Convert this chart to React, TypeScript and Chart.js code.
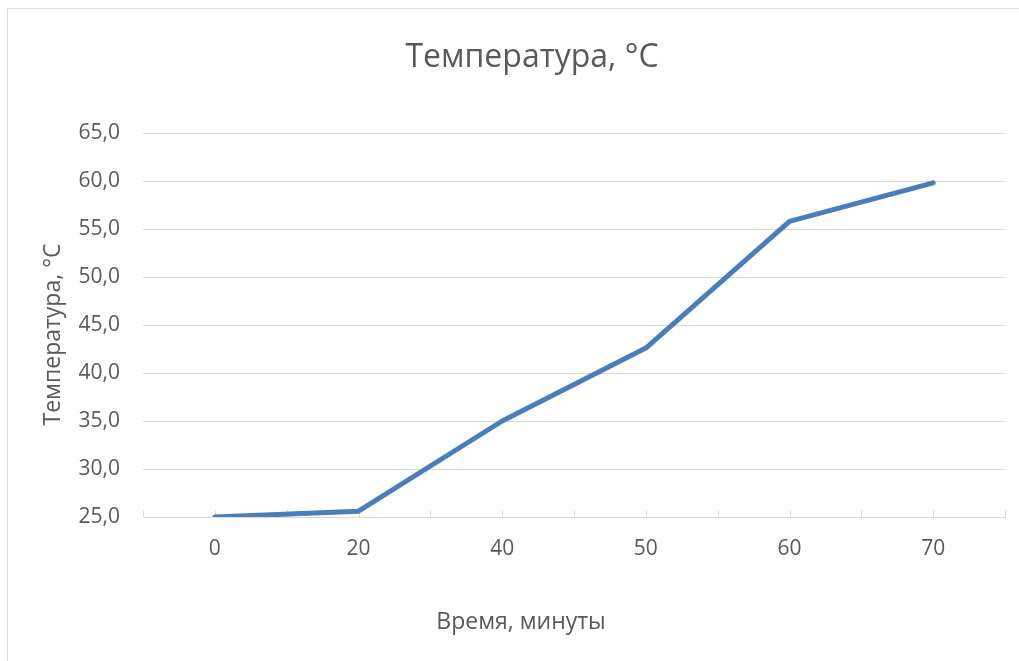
import { useEffect, useRef } from 'react';
import { Chart, registerables } from 'chart.js';

Chart.register(...registerables);

const categories = ['0', '20', '40', '50', '60', '70'];
const temperatures = [25.0, 25.6, 35.0, 42.6, 55.8, 59.8];
const chartTitle = 'Температура, °C';
const xAxisTitle = 'Время, минуты';
const yAxisTitle = 'Температура, °C';
const yMin = 25;
const yMax = 65;
const yStep = 5;

const FONT = '"Open Sans", "Noto Sans", sans-serif';
const TEXT = '#595959';
const GRID = '#d9d9d9';
const LINE = '#4a7ebb';

export default function App() {
  const ref = useRef<HTMLCanvasElement>(null);

  useEffect(() => {
    const canvas = ref.current;
    if (!canvas) return;

    const axisDecor = {
      id: 'axisDecor',
      beforeDatasetsDraw(chart: any) {
        const { ctx, chartArea } = chart;
        const x = chart.scales.x;
        ctx.save();
        ctx.strokeStyle = GRID;
        ctx.lineWidth = 1;
        ctx.beginPath();
        for (let k = 0; k <= categories.length * 2; k++) {
          const px = Math.round(x.getPixelForValue(-0.5 + k * 0.5)) + 0.5;
          ctx.moveTo(px, chartArea.bottom);
          ctx.lineTo(px, chartArea.bottom - 7);
        }
        ctx.stroke();
        ctx.restore();
      },
      afterDraw(chart: any) {
        const { ctx } = chart;
        ctx.save();
        ctx.fillStyle = TEXT;
        ctx.font = `23px ${FONT}`;
        ctx.textAlign = 'center';
        ctx.textBaseline = 'middle';
        ctx.fillText(xAxisTitle, 513, 613);
        ctx.translate(45, 325.5);
        ctx.rotate(-Math.PI / 2);
        ctx.fillText(yAxisTitle, 0, 0);
        ctx.restore();
      },
    };

    const chart = new Chart(canvas, {
      type: 'line',
      data: {
        labels: categories,
        datasets: [
          {
            data: temperatures,
            borderColor: LINE,
            backgroundColor: LINE,
            borderWidth: 5,
            borderCapStyle: 'round',
            borderJoinStyle: 'round',
            pointRadius: 0,
            tension: 0,
            fill: false,
          },
        ],
      },
      options: {
        animation: false,
        responsive: false,
        devicePixelRatio: 1,
        layout: { padding: { left: 51, right: 51, top: 0, bottom: 0 } },
        plugins: {
          legend: { display: false },
          tooltip: { enabled: false },
          title: {
            display: true,
            text: chartTitle,
            color: TEXT,
            font: { family: FONT, size: 32, weight: 'normal' },
            padding: { top: 29.4, bottom: 56.2 },
          },
        },
        scales: {
          x: {
            type: 'category',
            offset: true,
            grid: { display: false, drawTicks: false },
            border: { display: true, color: GRID, width: 1 },
            ticks: {
              color: TEXT,
              font: { family: FONT, size: 21 },
              padding: 19,
              maxRotation: 0,
              autoSkip: false,
            },
            afterFit(scale: any) {
              scale.height = 170;
            },
          },
          y: {
            type: 'linear',
            min: yMin,
            max: yMax,
            grid: { color: GRID, lineWidth: 1, drawTicks: false },
            border: { display: false },
            ticks: {
              stepSize: yStep,
              color: TEXT,
              font: { family: FONT, size: 21 },
              padding: 23,
              callback: (v: any) => Number(v).toFixed(1).replace('.', ','),
            },
            afterFit(scale: any) {
              scale.width = 84;
            },
          },
        },
      },
      plugins: [axisDecor],
    } as any);

    return () => chart.destroy();
  }, []);

  return (
    <div
      style={{
        position: 'fixed',
        left: 7,
        top: 8,
        width: 1050,
        height: 680,
        border: '1px solid #d9d9d9',
        boxSizing: 'border-box',
        background: '#fff',
      }}
    >
      <canvas
        ref={ref}
        width={1048}
        height={678}
        style={{ position: 'absolute', left: 0, top: 0, width: 1048, height: 678 }}
      />
    </div>
  );
}
